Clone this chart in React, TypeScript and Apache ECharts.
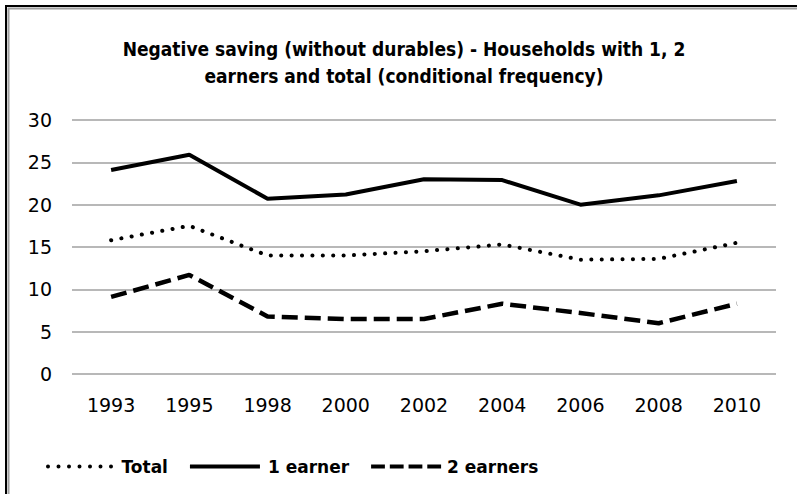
import React, { useEffect, useRef } from "react";
import * as echarts from "echarts";

const categories = ["1993", "1995", "1998", "2000", "2002", "2004", "2006", "2008", "2010"];
const totalValues = [15.8, 17.5, 14.0, 14.0, 14.5, 15.3, 13.5, 13.6, 15.5];
const oneEarnerValues = [24.1, 25.9, 20.7, 21.2, 23.0, 22.9, 20.0, 21.1, 22.8];
const twoEarnerValues = [9.1, 11.7, 6.8, 6.5, 6.5, 8.3, 7.2, 6.0, 8.3];
const yTicks = { min: 0, max: 30, interval: 5 };
const titleLines = [
  "Negative saving (without durables) - Households with 1, 2",
  "earners and total (conditional frequency)",
];

const FONT = "'DejaVu Sans', sans-serif";
const TITLE_FONT = "'DejaVu Sans Condensed', 'DejaVu Sans', sans-serif";

function dotsPath(): string {
  let d = "";
  for (let i = 0; i < 7; i++) {
    const cx = 2 + i * 10.5;
    d += `M${cx - 2},2a2,2 0 1,0 4,0a2,2 0 1,0 -4,0Z`;
  }
  return "path://" + d;
}
const solidPath = "path://M0,0h70v4h-70Z";
function dashPath(): string {
  let d = "";
  for (let i = 0; i < 4; i++) {
    const x = i * 19;
    d += `M${x},0h14v4h-14Z`;
  }
  return "path://" + d;
}

export default function App() {
  const ref = useRef<HTMLDivElement>(null);
  useEffect(() => {
    if (!ref.current) return;
    const chart = echarts.init(ref.current, null, { renderer: "svg" });
    chart.setOption({
      animation: false,
      backgroundColor: "#ffffff",
      title: {
        text: titleLines.join("\n"),
        left: 399,
        textAlign: "center",
        top: 30,
        textStyle: {
          fontFamily: TITLE_FONT,
          fontWeight: "bold",
          fontSize: 19,
          lineHeight: 27,
          color: "#000",
        },
      },
      graphic: [
        {
          type: "rect",
          shape: { x: 6, y: 6, width: 1000, height: 1000 },
          style: { fill: "none", stroke: "#000", lineWidth: 2 },
          silent: true,
        },
        {
          type: "rect",
          shape: { x: 8.5, y: 8.5, width: 1000, height: 1000 },
          style: { fill: "none", stroke: "#a0a0a0", lineWidth: 2 },
          silent: true,
        },
      ],
      legend: {
        left: 41,
        top: 453,
        itemWidth: 70,
        itemHeight: 4,
        itemGap: 22,
        textStyle: { fontFamily: FONT, fontWeight: "bold", fontSize: 17, color: "#000" },
        data: [
          { name: "Total", icon: dotsPath(), textStyle: { padding: [0, 0, 0, 2] } },
          { name: "1 earner", icon: solidPath, textStyle: { padding: [0, 0, 0, 3] } },
          { name: "2 earners", icon: dashPath(), textStyle: { padding: [0, 0, 0, 1] } },
        ],
      },
      grid: { left: 72, right: 21, top: 120, bottom: 120 },
      xAxis: {
        type: "category",
        data: categories,
        boundaryGap: true,
        axisLine: { show: false },
        axisTick: { show: false },
        axisLabel: { fontFamily: FONT, fontSize: 19, color: "#000", margin: 21 },
      },
      yAxis: {
        type: "value",
        min: yTicks.min,
        max: yTicks.max,
        interval: yTicks.interval,
        axisLine: { show: false },
        axisTick: { show: false },
        axisLabel: { fontFamily: FONT, fontSize: 19, color: "#000", margin: 20 },
        splitLine: { lineStyle: { color: "#a0a0a0", width: 1.5 } },
      },
      series: [
        {
          name: "Total",
          type: "line",
          data: totalValues,
          symbol: "none",
          lineStyle: { color: "#000", width: 4, type: [0.1, 10.3], cap: "round" },
          itemStyle: { color: "#000" },
        },
        {
          name: "1 earner",
          type: "line",
          data: oneEarnerValues,
          symbol: "none",
          lineStyle: { color: "#000", width: 4, type: "solid" },
          itemStyle: { color: "#000" },
        },
        {
          name: "2 earners",
          type: "line",
          data: twoEarnerValues,
          symbol: "none",
          lineStyle: { color: "#000", width: 4.5, type: [16, 7] },
          itemStyle: { color: "#000" },
        },
      ],
    });
    return () => chart.dispose();
  }, []);
  return (
    <div
      ref={ref}
      style={{ position: "absolute", left: 0, top: 0, width: 797, height: 494, background: "#fff" }}
    />
  );
}
